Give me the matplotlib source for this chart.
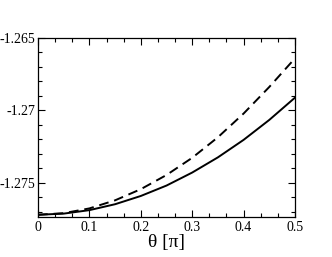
import matplotlib
matplotlib.use("Agg")
import matplotlib.pyplot as plt
from matplotlib.ticker import AutoMinorLocator

theta = [0.0, 0.05, 0.1, 0.15, 0.2, 0.25, 0.3, 0.35, 0.4, 0.45, 0.5]
energy_solid = [-1.27722, -1.27714, -1.27690, -1.27649, -1.27592, -1.27520,
                -1.27430, -1.27325, -1.27204, -1.27066, -1.26912]
energy_dashed = [-1.27722, -1.27711, -1.27678, -1.27622, -1.27545, -1.27447,
                 -1.27328, -1.27186, -1.27022, -1.26838, -1.26640]
xticks = [0.0, 0.1, 0.2, 0.3, 0.4, 0.5]
xtick_labels = ["0", "0.1", "0.2", "0.3", "0.4", "0.5"]
yticks = [-1.275, -1.27, -1.265]
ytick_labels = ["-1.275", "-1.27", "-1.265"]

plt.rcParams["font.family"] = ["Liberation Serif", "DejaVu Serif"]

fig = plt.figure(figsize=(3.32, 2.57), dpi=100)
ax = fig.add_axes([0.1145, 0.157, 0.7741, 0.695])

ax.plot(theta, energy_solid, color="black", lw=1.4)
ax.plot(theta, energy_dashed, color="black", lw=1.4, dashes=(5, 3))

ax.set_xlim(0, 0.5)
ax.set_ylim(-1.27735, -1.265)
ax.set_xticks(xticks)
ax.set_xticklabels(xtick_labels)
ax.xaxis.set_minor_locator(AutoMinorLocator(3))
ax.set_yticks(yticks)
ax.set_yticklabels(ytick_labels)
ax.yaxis.set_minor_locator(AutoMinorLocator(5))

ax.tick_params(which="both", direction="in", top=True, right=True,
               labelsize=10, width=0.8, pad=2)
ax.tick_params(axis="x", pad=3)
ax.tick_params(which="major", length=5)
ax.tick_params(which="minor", length=3)
for s in ax.spines.values():
    s.set_linewidth(0.9)

ax.set_xlabel("θ [π]", fontsize=14, labelpad=0)

fig.savefig("out.png", dpi=100)
